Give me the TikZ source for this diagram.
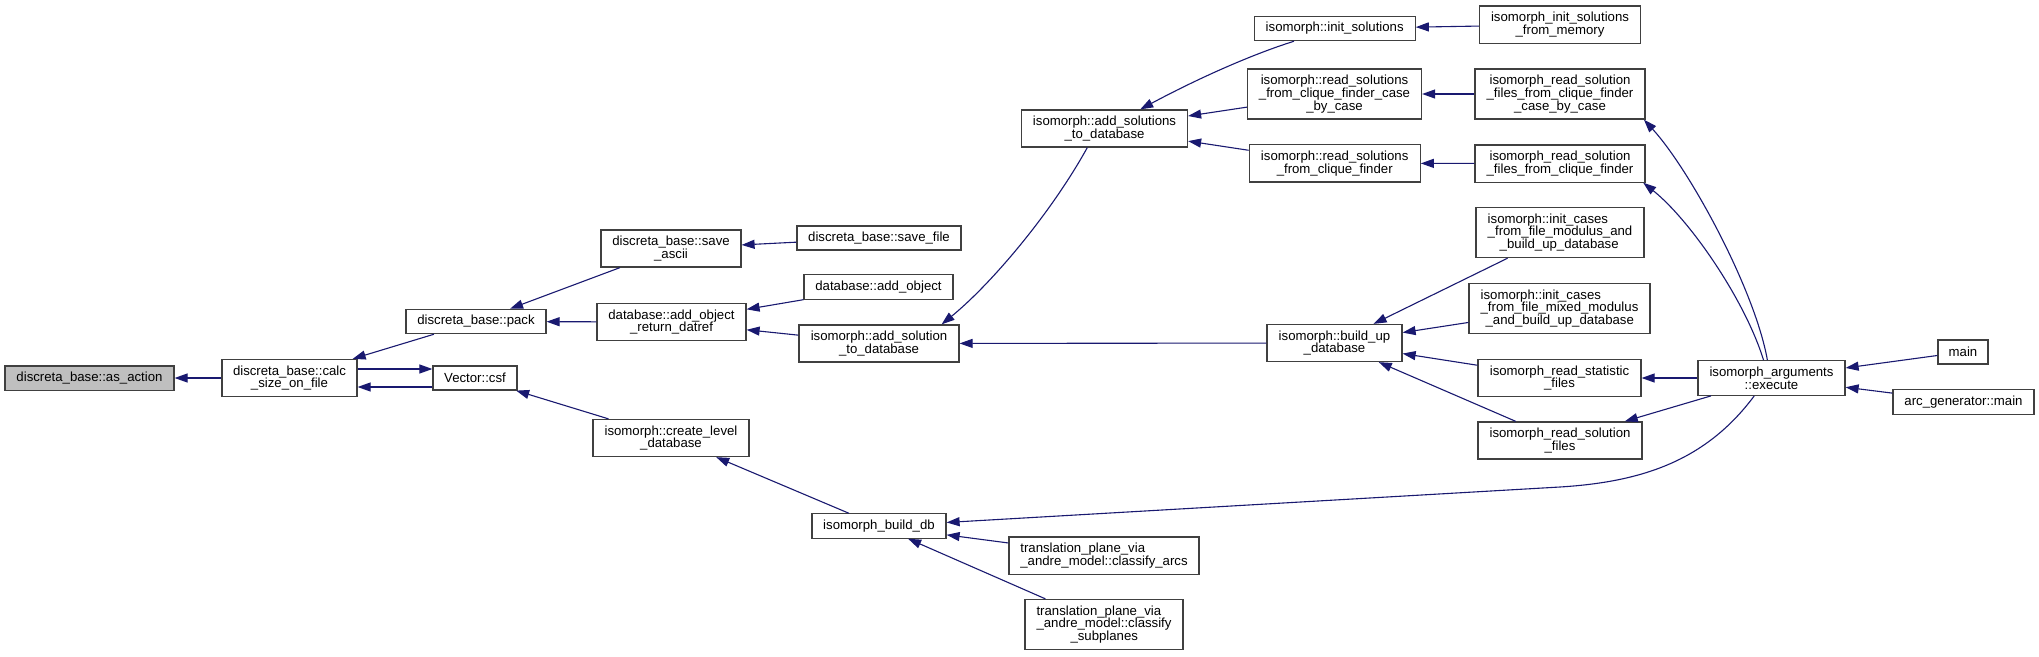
\documentclass[tikz,border=0pt]{standalone}
\usepackage{fontspec}
\setmainfont{Liberation Sans}
\usepackage{tikz}
\usetikzlibrary{arrows.meta}
\definecolor{dxedge}{HTML}{191970}
\definecolor{dxline}{HTML}{404040}
\definecolor{dxroot}{HTML}{BFBFBF}
\tikzset{
  fn/.style={draw=dxline,line width=1.2pt,fill=white,minimum height=24pt,
    inner xsep=2pt,inner ysep=6pt,align=center,font=\fontsize{13.2}{12.9}\selectfont},
  fnroot/.style={fn,fill=dxroot},
  call/.style={-{Triangle[length=13pt,width=9pt]},line width=1.1pt,draw=dxedge}
}

\begin{document}
\begin{tikzpicture}[x=1pt,y=-1pt]
    \path[use as bounding box,fill=white] (0,0) rectangle (2039,656);
    % column 1 to 3
    \node[fnroot,minimum width=169pt] (asaction) at (89.5,378) {discreta\_base::as\_action};
    \node[fn,minimum width=135pt] (calcsize) at (289.5,378) {discreta\_base::calc\\\_size\_on\_file};
    \node[fn,minimum width=84pt] (csf) at (475,378) {Vector::csf};
    \node[fn,minimum width=140pt] (pack) at (476,321.5) {discreta\_base::pack};
    \node[fn,minimum width=140pt] (saveascii) at (671,248.5) {discreta\_base::save\\\_ascii};
    \node[fn,minimum width=149pt] (addobjret) at (671.5,322) {database::add\_object\\\_return\_datref};
    \node[fn,minimum width=156pt] (createlvl) at (671,438) {isomorph::create\_level\\\_database};
    % column 4 and 5
    \node[fn,minimum width=164pt] (savefile) at (879,238) {discreta\_base::save\_file};
    \node[fn,minimum width=149pt] (addobj) at (878.5,287) {database::add\_object};
    \node[fn,minimum width=160pt] (addsol) at (879,343.5) {isomorph::add\_solution\\\_to\_database};
    \node[fn,minimum width=134pt] (builddb) at (879,526) {isomorph\_build\_db};
    \node[fn,minimum width=166pt] (addsols) at (1104.5,128.5) {isomorph::add\_solutions\\\_to\_database};
    \node[fn,minimum width=190pt,align=left] (clarcs) at (1104,555.5) {translation\_plane\_via\\\_andre\_model::classify\_arcs};
    \node[fn,minimum width=158pt,align=left] (clsub) at (1104,624.5) {translation\_plane\_via\\\_andre\_model::classify\\\hspace*{34pt}\_subplanes};
    % column 6
    \node[fn,minimum width=161pt] (initsol) at (1334.7,28.5) {isomorph::init\_solutions};
    \node[fn,minimum width=174pt] (rdcase) at (1334.5,94) {isomorph::read\_solutions\\\_from\_clique\_finder\_case\\\_by\_case};
    \node[fn,minimum width=171pt] (rdclq) at (1334.7,163.3) {isomorph::read\_solutions\\\_from\_clique\_finder};
    \node[fn,minimum width=135pt] (buildup) at (1334.5,343) {isomorph::build\_up\\\_database};
    % column 7
    \node[fn,minimum width=161pt] (initmem) at (1560,24.7) {isomorph\_init\_solutions\\\_from\_memory};
    \node[fn,minimum width=170pt] (rfcase) at (1560,94) {isomorph\_read\_solution\\\_files\_from\_clique\_finder\\\_case\_by\_case};
    \node[fn,minimum width=170pt] (rfclq) at (1560,163.5) {isomorph\_read\_solution\\\_files\_from\_clique\_finder};
    \node[fn,minimum width=168pt,align=left] (icmod) at (1560,232.5) {isomorph::init\_cases\\\_from\_file\_modulus\_and\\\hspace*{12pt}\_build\_up\_database};
    \node[fn,minimum width=181pt,align=left] (icmix) at (1559.5,308.5) {isomorph::init\_cases\\\_from\_file\_mixed\_modulus\\\hspace*{5pt}\_and\_build\_up\_database};
    \node[fn,minimum width=163pt] (rstat) at (1559.5,378) {isomorph\_read\_statistic\\\_files};
    \node[fn,minimum width=164pt] (rsfiles) at (1560,440.5) {isomorph\_read\_solution\\\_files};
    % column 8 and 9
    \node[fn,minimum width=147pt] (execute) at (1771.5,378) {isomorph\_arguments\\::execute};
    \node[fn,minimum width=50pt] (main) at (1963,352) {main};
    \node[fn,minimum width=141pt] (arcmain) at (1963.5,402) {arc\_generator::main};
    % calls
    \draw[call] (calcsize) -- (asaction);
    \draw[call] (pack) -- (calcsize);
    \draw[call] ([yshift=9pt]calcsize.east) -- ([yshift=9pt]csf.west);
    \draw[call] ([yshift=-9pt]csf.west) -- ([yshift=-9pt]calcsize.east);
    \draw[call] (saveascii) -- (pack);
    \draw[call] (addobjret) -- (pack);
    \draw[call] (createlvl) -- (csf);
    \draw[call] (savefile) -- (saveascii);
    \draw[call] (addobj) -- (addobjret);
    \draw[call] (addsol) -- (addobjret);
    \draw[call] (builddb) -- (createlvl);
    \draw[call] (addsols.-132) .. controls (1050,215) and (990,285) .. (addsol.17);
    \draw[call] (buildup) -- (addsol);
    \draw[call] (clarcs) -- (builddb);
    \draw[call] (clsub) -- (builddb);
    \draw[call] (initsol) .. controls (1250,55) and (1195,80) .. (addsols);
    \draw[call] (rdcase) -- (addsols);
    \draw[call] (rdclq) -- (addsols);
    \draw[call] (initmem) -- (initsol);
    \draw[call] (rfcase) -- (rdcase);
    \draw[call] (rfclq) -- (rdclq);
    \draw[call] (icmod) -- (buildup);
    \draw[call] (icmix) -- (buildup);
    \draw[call] (rstat) -- (buildup);
    \draw[call] (rsfiles) -- (buildup);
    \draw[call] (execute) -- (rstat);
    \draw[call] (execute) -- (rsfiles);
    \draw[call] (execute.103) .. controls (1755,290) and (1690,170) .. (rfcase.-17);
    \draw[call] (execute.114) .. controls (1745,300) and (1690,220) .. (rfclq.-13);
    \coordinate (dbbend) at (1560,487);
    \draw[call] (execute.-134) .. controls (1705,462) and (1640,482) .. (dbbend) -- (builddb.3);
    \draw[call] (main) -- (execute);
    \draw[call] (arcmain) -- (execute);
\end{tikzpicture}
\end{document}
